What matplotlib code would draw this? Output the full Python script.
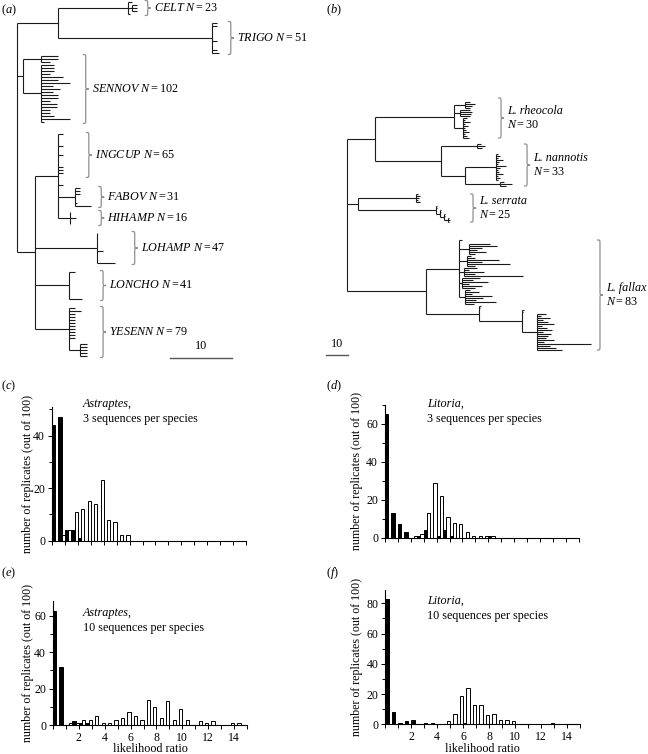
import numpy as np
import matplotlib
matplotlib.use('Agg')
import matplotlib.pyplot as plt
from matplotlib.path import Path
from matplotlib.patches import PathPatch

plt.rcParams['font.family'] = ['Liberation Serif', 'DejaVu Serif']
plt.rcParams['mathtext.fontset'] = 'custom'
plt.rcParams['mathtext.rm'] = 'Liberation Serif'
plt.rcParams['mathtext.it'] = 'Liberation Serif:italic'
plt.rcParams['mathtext.bf'] = 'Liberation Serif:bold'

# ---------------------------------------------------------------- data
# Trees: tip = branch length (0 = identical sequence), None = empty row,
# (stem, [children], name) = internal node, (name, [tips]) = labelled tip group
tree_a = (0.0, [
    (6.6, [
        (11.3, [0.6, (0.7, [0.8, 0.8, 0.8]), 0.3], 'CELT'),
        None, None,
        (24.9, [0.8, 0.8, 0, 0, 0, 0, 0.8, 0, 0, 0.8, 1.1], 'TRIGO'),
    ]),
    (1.0, [
        (2.9, [2.7, 2.7, 1.5]),
        (2.9, [2.0, 2.0, 2.0, 1.5, 3.5, 2.7, 4.7, 1.9, 3.0, 1.9, 2.7, 2.7, 1.5, 2.5,
               2.5, 1.5, 1.5, 2.0, 4.7, 0.5]),
    ], 'SENNOV'),
    None, None, None,
    (2.9, [
        (3.7, [
            ('INGCUP', [0.8, 0, 0, 0, 0.8, 0, 0, 0.8, 0, 0, 0, 0.8, 0.8, 0.8, 0]),
            0, 0, 0.8,
            (2.8, [0.8, 0.8, 0.8, 0, 0, 0.3, 2.6], 'FABOV'),
            None,
            (1.9, [0, 0, 1.0, 0, 0], 'HIHAMP'),
        ]),
        None, None,
        (10.0, [0, 0, 0, 0, 0, 0, 1.0, 0, 0, 0, 2.9], 'LOHAMP'),
        None, None,
        (5.5, [1.0, 0, 0, 0, 0, 0, 0, 0, 0, 2.1], 'LONCHO'),
        None, None,
        (5.5, [1.0, 1.9, 1.0, 1.0, 1.0, 1.0, 1.0, 1.0, 1.0, 1.0, 1.0, 0,
               (1.8, [1.1, 1.1, 1.1, 1.1, 1.1])], 'YESENN'),
    ]),
])

tree_b = (0.0, [
    (12.9, [
        (36.4, [None, None,
                (5.1, [2.3, 4.6, 3.2, 2.3]),
                (3.0, [4.5, 5.5, 5.0, 4.5]),
                (4.1, [2.0, 1.0, 3.5, 1.0, 2.5, 1.0, 1.5, 3.0, 0.8, 2.0, 3.0])],
         'rheocola'),
        None, None,
        (30.4, [(16.6, [2.0, 3.7, 2.5]), None, None,
                (11.1, [(14.3, [1.0, 2.0, 1.0, 3.0, 1.5, 0.8, 4.5, 2.0, 1.0, 1.5,
                                3.0, 1.0, 2.0, 1.0]),
                        (16.1, [2.0, 5.5, 3.0])])],
         'nannotis'),
    ]),
    None, None, None,
    (5.1, [(26.7, [1.0, 1.8, 1.5, 1.0, 1.8]), None,
           (35.9, [0.6, 0.6, (1.8, [0.5, 0.6, (1.8, [0.6, 0.6,
                                                     (1.8, [0.6, 1.0, 0.8])])])])],
     'serrata'),
    None, None, None, None, None, None, None, None,
    (36.4, [
        (15.2, [1.4, 0,
                (4.5, [10.0, 13.0, 6.0, 4.0, 8.0, 3.0]),
                (3.5, [2.0, 4.0, 15.0, 7.0, 20.0, 4.0]),
                (2.5, [6.0, 2.0, 9.0, 5.0, 27.0]),
                (1.5, [8.0, 5.0, 12.0, 3.0, 9.0, 6.0]),
                (3.0, [2.0, 6.0, 3.0, 12.0, 8.0, 5.0, 14.0, 4.0])]),
        (24.4, [0.8, 0.5,
                (19.8, [0.8, 0.6,
                        (6.9, [4.0, 2.0, 6.0, 3.0, 5.0, 8.0, 2.5, 4.5, 7.0, 3.0,
                               6.5, 5.0, 4.0, 8.0, 3.5, 25.0, 6.0, 9.0, 11.5])])]),
    ], 'fallax'),
])

clades_a = ['CELT', 'TRIGO', 'SENNOV', 'INGCUP', 'FABOV', 'HIHAMP', 'LOHAMP', 'LONCHO', 'YESENN']
n_a = [23, 51, 102, 65, 31, 16, 47, 41, 79]
clades_b = ['rheocola', 'nannotis', 'serrata', 'fallax']
n_b = [30, 33, 25, 83]

# histogram bins (left edges, width 0.5)
bin_left = [0.0, 0.5, 1.0, 1.5, 2.0, 2.5, 3.0, 3.5, 4.0, 4.5, 5.0, 5.5, 6.0, 6.5, 7.0,
            7.5, 8.0, 8.5, 9.0, 9.5, 10.0, 10.5, 11.0, 11.5, 12.0, 12.5, 13.0, 13.5, 14.0, 14.5]
black_c = [44, 47, 4, 4, 1, 0, 0, 0, 0, 0, 0, 0, 0, 0, 0, 0, 0, 0, 0, 0, 0, 0, 0, 0, 0, 0, 0, 0, 0, 0]
white_c = [0, 2, 4, 11, 12, 15, 14, 23, 8, 7, 2, 2, 0, 0, 0, 0, 0, 0, 0, 0, 0, 0, 0, 0, 0, 0, 0, 0, 0, 0]
black_d = [65, 13, 7, 3, 0, 1, 4, 0, 1, 4, 1, 0, 0, 0, 0, 0, 1, 0, 0, 0, 0, 0, 0, 0, 0, 0, 0, 0, 0, 0]
white_d = [0, 0, 0, 0, 1, 2, 13, 29, 22, 11, 8, 7, 3, 1, 1, 1, 1, 0, 0, 0, 0, 0, 0, 0, 0, 0, 0, 0, 0, 0]
black_e = [63, 32, 0, 2, 1, 1, 0, 0, 0, 0, 0, 0, 0, 0, 0, 0, 0, 0, 0, 0, 0, 0, 0, 0, 0, 0, 0, 0, 0, 0]
white_e = [0, 0, 1, 1, 3, 3, 5, 1, 1, 3, 4, 7, 5, 3, 14, 10, 4, 13, 3, 9, 3, 0, 2, 1, 2, 0, 0, 1, 1, 0]
black_f = [83, 8, 1, 2, 3, 0, 1, 1, 0, 0, 0, 0, 1, 0, 0, 0, 0, 0, 0, 0, 0, 0, 0, 0, 0, 0, 0, 0, 0, 0]
white_f = [0, 0, 0, 0, 0, 0, 0, 0, 0, 2, 7, 19, 24, 13, 13, 6, 7, 3, 3, 2, 0, 0, 0, 0, 0, 1, 0, 0, 0, 0]

x_ticks = [0, 1, 2, 3, 4, 5, 6, 7, 8, 9, 10, 11, 12, 13, 14, 15]
x_ticklabels = ['', '', '2', '', '4', '', '6', '', '8', '', '10', '', '12', '', '14', '']

# ---------------------------------------------------------------- layout helpers
W, H = 648, 754
fig = plt.figure(figsize=(W / 100, H / 100), dpi=100)
TREE_COLOR = '#1c1c1c'
BRACE_COLOR = '#8f8f8f'
FS_TREE = 8.7
FS_NOTE = 8.7
FS_TICK = 8.5
FS_AXLAB = 8.6


def px_axes(l, t, r, b):
    return fig.add_axes([l / W, 1 - b / H, (r - l) / W, (b - t) / H])


def layout(tree):
    hs, vs, spans = [], [], {}
    row = [0]

    def kids(items, x):
        ys = []
        for it in items:
            if it is None:
                row[0] += 1
            elif isinstance(it, (int, float)):
                y = row[0]
                row[0] += 1
                if it > 0:
                    hs.append((y, x, x + it))
                ys.append(y)
            elif isinstance(it[0], str):
                start = row[0]
                ys.extend(kids(it[1], x))
                spans[it[0]] = (start, row[0] - 1)
            else:
                ys.append(node(it, x))
        return ys

    def node(nd, xp):
        x = xp + nd[0]
        start = row[0]
        ys = kids(nd[1], x)
        y = 0.5 * (ys[0] + ys[-1])
        vs.append((x, ys[0], ys[-1]))
        if nd[0] > 0:
            hs.append((y, xp, x))
        if len(nd) > 2:
            spans[nd[2]] = (start, row[0] - 1)
        return y

    node(tree, 0.0)
    return hs, vs, spans


def draw_tree(ax, tree):
    hs, vs, spans = layout(tree)
    ax.hlines([h[0] for h in hs], [h[1] for h in hs], [h[2] for h in hs],
              colors=TREE_COLOR, lw=0.8)
    ax.vlines([v[0] for v in vs], [v[1] for v in vs], [v[2] for v in vs],
              colors=TREE_COLOR, lw=0.8)
    return spans


def brace(ax, x, y0, y1, w, q):
    ym = 0.5 * (y0 + y1)
    q = min(q, 0.45 * (ym - y0))
    xm = x + w / 2
    verts = [(x, y0), (xm, y0), (xm, y0), (xm, y0 + q),
             (xm, ym - q), (xm, ym), (xm, ym), (x + w, ym),
             (xm, ym), (xm, ym), (xm, ym + q),
             (xm, y1 - q), (xm, y1), (xm, y1), (x, y1)]
    codes = [Path.MOVETO, Path.CURVE4, Path.CURVE4, Path.CURVE4,
             Path.LINETO, Path.CURVE4, Path.CURVE4, Path.CURVE4,
             Path.CURVE4, Path.CURVE4, Path.CURVE4,
             Path.LINETO, Path.CURVE4, Path.CURVE4, Path.CURVE4]
    ax.add_patch(PathPatch(Path(verts, codes), fill=False, ec=BRACE_COLOR, lw=0.9))


# ---------------------------------------------------------------- (a) tree
A_ROOT, A_SC, A_ROW0, A_ROWH = 17, 6.2, 2, 3
axA = px_axes(0, 0, 324, 370)
axA.set_xlim(-A_ROOT / A_SC, (324 - A_ROOT) / A_SC)
axA.set_ylim((370 - A_ROW0) / A_ROWH, -A_ROW0 / A_ROWH)
axA.axis('off')
spans_a = draw_tree(axA, tree_a)
brace_col_a = {'CELT': 20.6, 'TRIGO': 34.0, 'SENNOV': 10.6, 'INGCUP': 11.1, 'FABOV': 13.1,
               'HIHAMP': 13.1, 'LOHAMP': 18.5, 'LONCHO': 13.4, 'YESENN': 13.4}
bw_a = 6 / A_SC
for name, n in zip(clades_a, n_a):
    r0, r1 = spans_a[name]
    xb = brace_col_a[name]
    brace(axA, xb, r0 - 0.5, r1 + 0.5, bw_a, 4 / A_ROWH)
    axA.text(xb + bw_a + 3 / A_SC, 0.5 * (r0 + r1), r'$\mathit{%s}\ N = %d$' % (name, n),
             fontsize=FS_TREE, va='center', ha='left')
# scale bar
axA.plot([24.7, 34.7], [(358 - A_ROW0) / A_ROWH] * 2, color='#555555', lw=1.0)
axA.text(29.7, (352 - A_ROW0) / A_ROWH, '10', fontsize=FS_TREE, ha='center', va='bottom')

# ---------------------------------------------------------------- (b) tree
B_ROOT, B_SC, B_ROW0, B_ROWH = 347, 2.17, 98, 2
axB = px_axes(324, 0, 648, 370)
axB.set_xlim((324 - B_ROOT) / B_SC, (648 - B_ROOT) / B_SC)
axB.set_ylim((370 - B_ROW0) / B_ROWH, -B_ROW0 / B_ROWH)
axB.axis('off')
spans_b = draw_tree(axB, tree_b)
brace_col_b = {'rheocola': 69.6, 'nannotis': 81.6, 'serrata': 56.7, 'fallax': 115.2}
bw_b = 6 / B_SC
for name, n in zip(clades_b, n_b):
    r0, r1 = spans_b[name]
    xb = brace_col_b[name]
    brace(axB, xb, r0, r1, bw_b, 4 / B_ROWH)
    ym = 0.5 * (r0 + r1)
    axB.text(xb + bw_b + 3 / B_SC, ym - 3.5, 'L. ' + name, fontsize=FS_TREE, style='italic',
             va='center', ha='left')
    axB.text(xb + bw_b + 3 / B_SC, ym + 3.5, r'$N = %d$' % n, fontsize=FS_TREE,
             va='center', ha='left')
axB.plot([-9.7, 0.3], [(355 - B_ROW0) / B_ROWH] * 2, color='#555555', lw=1.0)
axB.text(-4.7, (350 - B_ROW0) / B_ROWH, '10', fontsize=FS_TREE, ha='center', va='bottom')


# ---------------------------------------------------------------- histograms
def hist_panel(box, ymax, black, white, species, nseq, txt_xy, show_xlabels, ylab_x):
    ax = px_axes(*box)
    left = np.array(bin_left)
    wv = np.array(white)
    bv = np.array(black)
    mw = wv > 0
    mb = bv > 0
    ax.bar(left[mw] + 0.375, wv[mw], width=0.25, color='white', edgecolor='black', lw=0.7)
    ax.bar(left[mb] + 0.125, bv[mb], width=0.25, color='black', edgecolor='black', lw=0.7)
    ax.set_xlim(0, 15)
    ax.set_ylim(0, ymax)
    for s in ('top', 'right'):
        ax.spines[s].set_visible(False)
    for s in ('left', 'bottom'):
        ax.spines[s].set_linewidth(0.8)
    ax.set_xticks(x_ticks)
    if show_xlabels:
        ax.set_xticklabels(x_ticklabels)
    else:
        ax.set_xticklabels([''] * len(x_ticks))
    ax.set_yticks(np.arange(0, ymax + 0.01, 20))
    ax.set_yticks(np.arange(10, ymax + 0.01, 20), minor=True)
    ax.tick_params(axis='both', which='major', direction='out', length=3, width=0.7,
                   labelsize=FS_TICK, pad=2)
    ax.tick_params(axis='y', which='minor', direction='out', length=2, width=0.7)
    fig.text(txt_xy[0] / W, 1 - txt_xy[1] / H, species + ',', fontsize=FS_NOTE, style='italic',
             va='center', ha='left')
    fig.text(txt_xy[0] / W, 1 - (txt_xy[1] + 15) / H, '%d sequences per species' % nseq,
             fontsize=FS_NOTE, va='center', ha='left')
    cy = 0.5 * (box[1] + box[3])
    fig.text(ylab_x / W, 1 - cy / H, 'number of replicates (out of 100)', rotation=90,
             fontsize=FS_AXLAB, va='center', ha='center')
    if show_xlabels:
        fig.text(0.5 * (box[0] + box[2]) / W, 1 - 748.5 / H, 'likelihood ratio', fontsize=8.7,
                 va='center', ha='center')
    return ax


hist_panel((52, 406.7, 246, 540.7), 51, black_c, white_c, 'Astraptes', 3, (83, 404), False, 28)
hist_panel((385, 405, 578.5, 537.7), 70, black_d, white_d, 'Litoria', 3, (427, 404), False, 357)
hist_panel((53, 600.7, 247, 725), 68.4, black_e, white_e, 'Astraptes', 10, (83, 613), True, 28)
hist_panel((385.3, 590, 580, 724.3), 88.8, black_f, white_f, 'Litoria', 10, (427, 601), True, 357)

# panel letters
for lab, (x, y) in zip('abcdef', [(1, 10), (326, 10), (1, 386), (326, 386), (1, 573), (326, 573)]):
    fig.text(x / W, 1 - y / H, r'($\mathit{%s}$)' % lab, fontsize=9, va='center', ha='left')

fig.savefig('out.png', dpi=100)
